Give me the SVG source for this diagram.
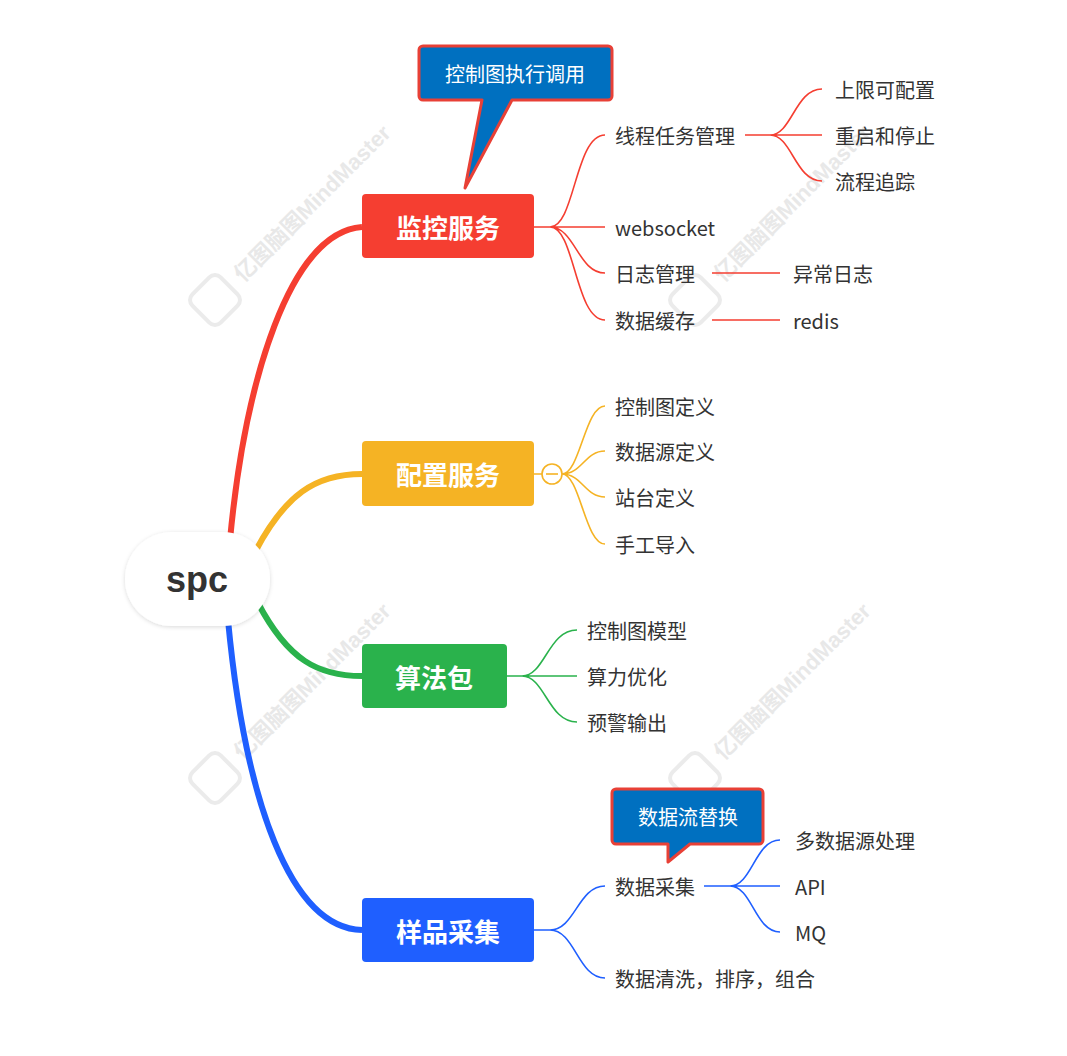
<svg xmlns="http://www.w3.org/2000/svg" width="1067" height="1056" viewBox="0 0 1067 1056">
<defs>
<style>
.t{font-family:"Noto Sans CJK SC","Liberation Sans",sans-serif;font-size:20px;fill:#333;dominant-baseline:central}
.m{font-family:"Noto Sans CJK SC","Liberation Sans",sans-serif;font-size:26px;font-weight:bold;fill:#fff;text-anchor:middle;dominant-baseline:central}
.c{font-family:"Noto Sans CJK SC","Liberation Sans",sans-serif;font-size:20px;fill:#fff;text-anchor:middle;dominant-baseline:central}
.w{font-family:"Liberation Sans","Noto Sans CJK SC",sans-serif;font-size:22px;font-weight:bold;fill:#e8e8e8}
.r{fill:none;stroke:#F53E31;stroke-width:1.6}
.o{fill:none;stroke:#F5B324;stroke-width:1.6}
.g{fill:none;stroke:#2AB24C;stroke-width:1.6}
.b{fill:none;stroke:#1F5FFF;stroke-width:1.6}
</style>
<filter id="sh" x="-20%" y="-20%" width="140%" height="140%"><feDropShadow dx="0" dy="1" stdDeviation="2" flood-color="#000" flood-opacity="0.15"/></filter>
</defs>
<rect width="1067" height="1056" fill="#fff"/>
<g id="watermarks">
<g transform="translate(215,300) rotate(-45)"><rect x="-20" y="-20" width="40" height="40" rx="8" fill="none" stroke="#ebebeb" stroke-width="4"/><text class="w" x="32" y="8">亿图脑图MindMaster</text></g>
<g transform="translate(695,300) rotate(-45)"><rect x="-20" y="-20" width="40" height="40" rx="8" fill="none" stroke="#ebebeb" stroke-width="4"/><text class="w" x="32" y="8">亿图脑图MindMaster</text></g>
<g transform="translate(215,778) rotate(-45)"><rect x="-20" y="-20" width="40" height="40" rx="8" fill="none" stroke="#ebebeb" stroke-width="4"/><text class="w" x="32" y="8">亿图脑图MindMaster</text></g>
<g transform="translate(695,778) rotate(-45)"><rect x="-20" y="-20" width="40" height="40" rx="8" fill="none" stroke="#ebebeb" stroke-width="4"/><text class="w" x="32" y="8">亿图脑图MindMaster</text></g>
</g>
<g id="connectors">
<path d="M230,540 C245,380 290,232 362,227" fill="none" stroke="#F53E31" stroke-width="6"/>
<path d="M255,552 C285,495 315,474 362,474" fill="none" stroke="#F5B324" stroke-width="6"/>
<path d="M258,603 C288,660 318,676 362,676" fill="none" stroke="#2AB24C" stroke-width="6"/>
<path d="M228,620 C245,800 290,928 362,930" fill="none" stroke="#1F5FFF" stroke-width="6"/>
<path class="r" d="M534,227 H550 M550,227 C575,227 575,135 605,135 M550,227 H605 M550,227 C575,227 578,273 605,273 M550,227 C575,227 575,320 605,320"/>
<path class="r" d="M745,135 H770 M770,135 C792,135 795,89 822,89 M770,135 H822 M770,135 C792,135 795,181 822,181 M712,273 H780 M712,320 H780"/>
<path class="o" d="M534,474 H542 M562,474 C580,474 585,406 605,406 M562,474 C582,474 585,451 605,451 M562,474 C582,474 585,497 605,497 M562,474 C580,474 585,544 605,544"/>
<path class="g" d="M507,676 H522 M522,676 C545,676 548,630 577,630 M522,676 H577 M522,676 C545,676 548,722 577,722"/>
<path class="b" d="M534,930 H550 M550,930 C575,930 578,886 605,886 M550,930 C575,930 578,978 605,978 M704,886 H730 M730,886 C752,886 755,840 780,840 M730,886 H780 M730,886 C752,886 755,932 780,932"/>
<circle cx="552" cy="474" r="10" fill="#fff" stroke="#F5B324" stroke-width="1.6"/>
<line x1="546" y1="474" x2="558" y2="474" stroke="#F5B324" stroke-width="1.6"/>
</g>
<g id="root"><rect x="125" y="532" width="145" height="94" rx="47" fill="#fff" filter="url(#sh)"/><text x="197" y="579" font-family="Liberation Sans,sans-serif" font-size="36" font-weight="bold" fill="#333" text-anchor="middle" dominant-baseline="central">spc</text></g>
<g id="n1"><rect x="362" y="194" width="172" height="64" rx="4" fill="#F53E31"/><text class="m" x="448" y="226">监控服务</text></g>
<g id="n2"><rect x="362" y="441" width="172" height="65" rx="4" fill="#F5B324"/><text class="m" x="448" y="473">配置服务</text></g>
<g id="n3"><rect x="362" y="644" width="145" height="64" rx="4" fill="#2AB24C"/><text class="m" x="434" y="676">算法包</text></g>
<g id="n4"><rect x="362" y="898" width="172" height="64" rx="4" fill="#1F5FFF"/><text class="m" x="448" y="930">样品采集</text></g>
<g id="callout1"><path d="M423,46 H608 a4,4 0 0 1 4,4 V96 a4,4 0 0 1 -4,4 H512 L465,188 L482,100 H423 a4,4 0 0 1 -4,-4 V50 a4,4 0 0 1 4,-4 Z" fill="#0070C0" stroke="#E84036" stroke-width="3" stroke-linejoin="round"/><text class="c" x="515" y="73">控制图执行调用</text></g>
<g id="callout2"><path d="M616,789 H759 a4,4 0 0 1 4,4 V840 a4,4 0 0 1 -4,4 H690 L668,862 L668,844 H616 a4,4 0 0 1 -4,-4 V793 a4,4 0 0 1 4,-4 Z" fill="#0070C0" stroke="#E84036" stroke-width="3" stroke-linejoin="round"/><text class="c" x="688" y="816">数据流替换</text></g>
<g id="labels">
<text class="t" x="615" y="135">线程任务管理</text>
<text class="t" x="615" y="227">websocket</text>
<text class="t" x="615" y="273">日志管理</text>
<text class="t" x="615" y="320">数据缓存</text>
<text class="t" x="835" y="89">上限可配置</text>
<text class="t" x="835" y="135">重启和停止</text>
<text class="t" x="835" y="181">流程追踪</text>
<text class="t" x="793" y="273">异常日志</text>
<text class="t" x="793" y="320">redis</text>
<text class="t" x="615" y="406">控制图定义</text>
<text class="t" x="615" y="451">数据源定义</text>
<text class="t" x="615" y="497">站台定义</text>
<text class="t" x="615" y="544">手工导入</text>
<text class="t" x="587" y="630">控制图模型</text>
<text class="t" x="587" y="676">算力优化</text>
<text class="t" x="587" y="722">预警输出</text>
<text class="t" x="615" y="886">数据采集</text>
<text class="t" x="615" y="978">数据清洗，排序，组合</text>
<text class="t" x="795" y="840">多数据源处理</text>
<text class="t" x="795" y="886">API</text>
<text class="t" x="795" y="932">MQ</text>
</g>
</svg>
